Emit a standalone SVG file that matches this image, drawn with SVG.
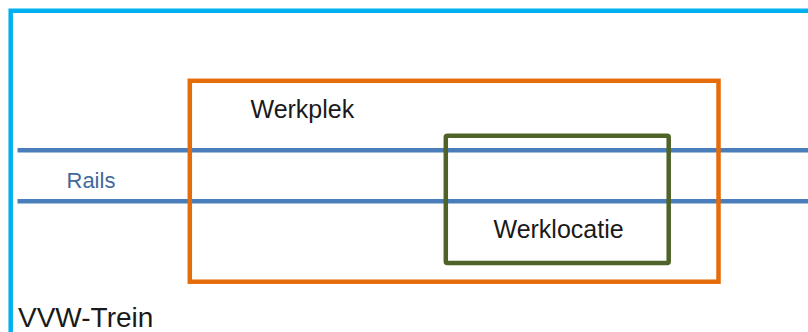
<svg xmlns="http://www.w3.org/2000/svg" width="808" height="332" viewBox="0 0 808 332">
<style>
  .lbl { font-family: "Liberation Sans", Arial, sans-serif; fill: #1a1a1a; }
  .frame { fill: none; stroke-width: 4.5; }
</style>
<rect width="808" height="332" fill="#ffffff"/>
<g id="vvw-trein">
  <path class="frame" d="M10.7 334 V10.8 H812" stroke="#00B0F0" stroke-linejoin="miter"/>
  <text class="lbl" x="18" y="327.3" font-size="28">VVW-Trein</text>
</g>
<g id="rails">
  <line x1="17.5" y1="150.2" x2="810" y2="150.2" stroke="#4A7EBB" stroke-width="4.5"/>
  <line x1="17.5" y1="201.3" x2="810" y2="201.3" stroke="#4A7EBB" stroke-width="4.5"/>
  <text x="66.5" y="188.3" font-size="22" font-family="'Liberation Sans', Arial, sans-serif" fill="#41699C">Rails</text>
</g>
<g id="werkplek">
  <rect class="frame" x="189.8" y="80.8" width="528.7" height="200.9" stroke="#E46C0A"/>
  <text class="lbl" x="250.5" y="118.3" font-size="25">Werkplek</text>
</g>
<g id="werklocatie">
  <rect class="frame" x="445.8" y="135.8" width="222.9" height="127.2" rx="1.5" stroke="#4F6228"/>
  <text class="lbl" x="493.5" y="238.3" font-size="25">Werklocatie</text>
</g>
</svg>
